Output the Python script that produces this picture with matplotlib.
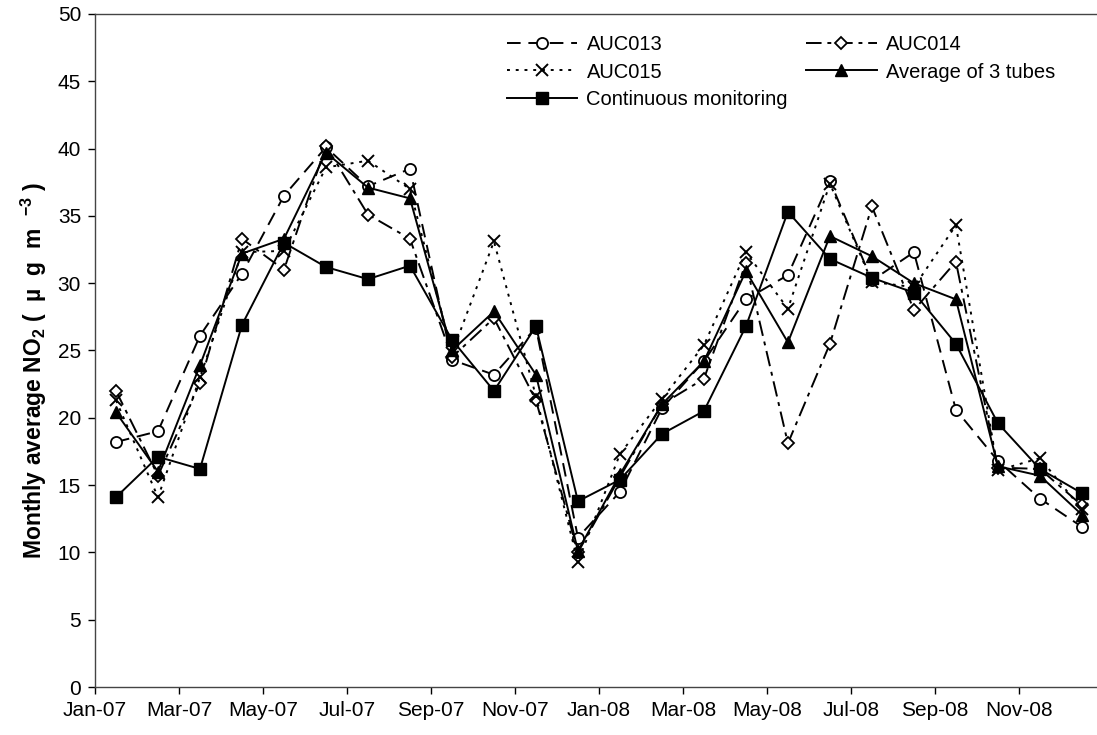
import matplotlib
matplotlib.use("Agg")
import matplotlib.pyplot as plt
import numpy as np

plt.rcParams['font.family'] = ['Liberation Sans', 'DejaVu Sans']
plt.rcParams['mathtext.fontset'] = 'custom'
plt.rcParams['mathtext.bf'] = 'Liberation Sans:bold'
plt.rcParams['mathtext.rm'] = 'Liberation Sans'

months = ['Jan-07', 'Feb-07', 'Mar-07', 'Apr-07', 'May-07', 'Jun-07',
          'Jul-07', 'Aug-07', 'Sep-07', 'Oct-07', 'Nov-07', 'Dec-07',
          'Jan-08', 'Feb-08', 'Mar-08', 'Apr-08', 'May-08', 'Jun-08',
          'Jul-08', 'Aug-08', 'Sep-08', 'Oct-08', 'Nov-08', 'Dec-08']

auc013 = [18.2, 19.0, 26.1, 30.7, 36.5, 40.1, 37.2, 38.5, 24.3, 23.2, 26.7, 11.1,
          14.5, 20.7, 24.2, 28.8, 30.6, 37.6, 30.2, 32.3, 20.6, 16.8, 14.0, 11.9]
auc014 = [22.0, 15.7, 22.6, 33.3, 31.0, 40.2, 35.1, 33.3, 24.5, 27.4, 21.3, 10.0,
          15.6, 21.0, 22.9, 31.5, 18.1, 25.5, 35.7, 28.0, 31.6, 16.3, 16.2, 13.5]
auc015 = [21.3, 14.1, 23.0, 32.3, 32.4, 38.6, 39.1, 37.0, 24.8, 33.1, 21.6, 9.3,
          17.3, 21.4, 25.4, 32.3, 28.1, 37.4, 30.1, 29.7, 34.3, 16.1, 17.0, 13.2]
average = [20.4, 16.0, 23.9, 32.2, 33.3, 39.7, 37.1, 36.3, 25.0, 27.9, 23.2, 10.1,
           15.8, 21.0, 24.2, 30.9, 25.6, 33.5, 32.0, 30.0, 28.8, 16.4, 15.7, 12.8]
continuous = [14.1, 17.1, 16.2, 26.9, 33.0, 31.2, 30.3, 31.3, 25.8, 22.0, 26.8, 13.8,
              15.4, 18.8, 20.5, 26.8, 35.3, 31.8, 30.4, 29.3, 25.5, 19.6, 16.2, 14.4]

# monthly values sit in the middle of each month
x = np.arange(len(months)) + 0.5

fig = plt.figure(figsize=(10.97, 7.35), dpi=100)
ax = fig.add_axes([0.0866, 0.0653, 0.9134, 0.9157])

lw = 1.4
l13, = ax.plot(x, auc013, color='black', lw=lw, linestyle=(0, (7, 4)),
               marker='o', ms=8, mfc='white', mec='black', mew=1.3, label='AUC013')
l14, = ax.plot(x, auc014, color='black', lw=lw, linestyle=(0, (8, 3, 2, 3)),
               marker='D', ms=6, mfc='white', mec='black', mew=1.3, label='AUC014')
l15, = ax.plot(x, auc015, color='black', lw=lw, linestyle=(0, (1.5, 3)),
               marker='x', ms=9, mec='black', mew=1.4, label='AUC015')
lav, = ax.plot(x, average, color='black', lw=lw, linestyle='-',
               marker='^', ms=8.5, mfc='black', mec='black', label='Average of 3 tubes')
lcm, = ax.plot(x, continuous, color='black', lw=lw, linestyle='-',
               marker='s', ms=8, mfc='black', mec='black', label='Continuous monitoring')

ax.set_xlim(0, 23.86)
ax.set_ylim(0, 50)
ax.set_yticks(np.arange(0, 51, 5))
ax.set_xticks(np.arange(0, 24, 2))
ax.set_xticklabels(months[::2])

ax.tick_params(axis='both', direction='out', length=5, width=1, labelsize=15)
ax.tick_params(axis='y', pad=5)
ax.tick_params(axis='x', pad=5)
for s in ['left', 'bottom', 'top']:
    ax.spines[s].set_color('#444444')
    ax.spines[s].set_linewidth(1)
ax.spines['right'].set_visible(False)

ax.set_ylabel(r'Monthly average NO$_\mathbf{2}$ (  µ  g  m  $^{\mathbf{-3}}$ )',
              fontsize=16.5, fontweight='bold')
ax.yaxis.set_label_coords(-0.046, 0.47)

ax.legend(handles=[l13, l15, lcm, l14, lav], ncol=2, frameon=False,
          fontsize=14.5, handlelength=3.5, labelspacing=0.4, columnspacing=0.9,
          handletextpad=0.45, loc='upper left', bbox_to_anchor=(0.393, 0.995))

fig.savefig('out.png', dpi=100)
